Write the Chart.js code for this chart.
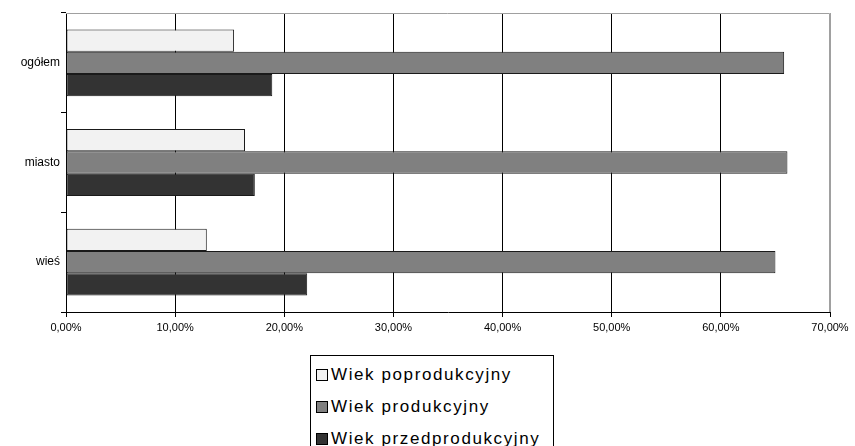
<!DOCTYPE html>
<html>
<head>
<meta charset="utf-8">
<script src="https://cdn.jsdelivr.net/npm/chart.js@4/dist/chart.umd.min.js"></script>
<style>
  body { margin: 0; background: #fff; }
  #wrap { position: relative; width: 855px; height: 446px; overflow: hidden; }
  #legend {
    position: absolute; left: 310px; top: 355px; width: 244px; height: 100px;
    border: 1px solid #000; box-sizing: border-box; background: #fff;
    font-family: "Liberation Sans", Arial, sans-serif; font-size: 17px; color: #000;
    letter-spacing: 1.6px; padding: 4px 0 0 5px;
  }
  #legend div { height: 32px; line-height: 30px; white-space: nowrap; }
  #legend span { display: inline-block; width: 10px; height: 10px; border: 1px solid #000; margin-right: 3px; vertical-align: -1px; }
</style>
</head>
<body>
<div id="wrap">
  <canvas id="c" width="855" height="446"></canvas>
  <div id="legend"></div>
</div>
<script>
// kategorie i wartości (%)
const categories = ['ogółem', 'miasto', 'wieś'];
const poprodukcyjny = [15.4, 16.4, 12.9];
const produkcyjny = [65.8, 66.1, 65.0];
const przedprodukcyjny = [18.9, 17.3, 22.1];
const seriesNames = ['Wiek poprodukcyjny', 'Wiek produkcyjny', 'Wiek przedprodukcyjny'];
const seriesColors = ['#f2f2f2', '#808080', '#333333'];

const plotFrame = {
    id: 'plotFrame',
    beforeDatasetsDraw(chart) {
        const a = chart.chartArea, ctx = chart.ctx;
        ctx.save();
        ctx.strokeStyle = '#a0a0a0';
        ctx.lineWidth = 1;
        ctx.beginPath();
        ctx.moveTo(a.left, a.top + 0.5);
        ctx.lineTo(a.right - 0.5, a.top + 0.5);
        ctx.lineTo(a.right - 0.5, a.bottom);
        ctx.stroke();
        ctx.restore();
    }
};

const ctx = document.getElementById('c').getContext('2d');
const chart = new Chart(ctx, {
    type: 'bar',
    data: {
        labels: categories,
        datasets: [poprodukcyjny, produkcyjny, przedprodukcyjny].map((d, i) => ({
            label: seriesNames[i],
            data: d,
            backgroundColor: seriesColors[i],
            borderColor: '#1a1a1a',
            borderWidth: 1,
            borderSkipped: false,
            barPercentage: 1.0,
            categoryPercentage: 0.67
        }))
    },
    options: {
        indexAxis: 'y',
        responsive: false,
        animation: false,
        layout: { padding: { top: 13, right: 25, bottom: 104, left: 0 } },
        plugins: { legend: { display: false }, tooltip: { enabled: false } },
        scales: {
            x: {
                min: 0, max: 70,
                afterFit: s => { s.height = 30; },
                ticks: {
                    stepSize: 10,
                    color: '#000',
                    font: { family: 'Liberation Sans', size: 11 },
                    padding: 4,
                    callback: v => v.toFixed(2).replace('.', ',') + '%'
                },
                grid: {
                    color: c => c.tick && c.tick.value === 70 ? '#a0a0a0' : '#000',
                    tickColor: '#000',
                    tickLength: 5
                },
                border: { color: '#000' }
            },
            y: {
                afterFit: s => { s.width = 66; },
                ticks: {
                    color: '#000',
                    font: { family: 'Liberation Sans', size: 12 },
                    padding: 1
                },
                grid: {
                    drawOnChartArea: false,
                    tickColor: '#000',
                    tickLength: 5
                },
                border: { color: '#000' }
            }
        }
    },
    plugins: [plotFrame]
});

// legenda
const legend = document.getElementById('legend');
seriesNames.forEach((name, i) => {
    const row = document.createElement('div');
    row.innerHTML = '<span style="background:' + seriesColors[i] + '"></span>' + name;
    legend.appendChild(row);
});
</script>
</body>
</html>
